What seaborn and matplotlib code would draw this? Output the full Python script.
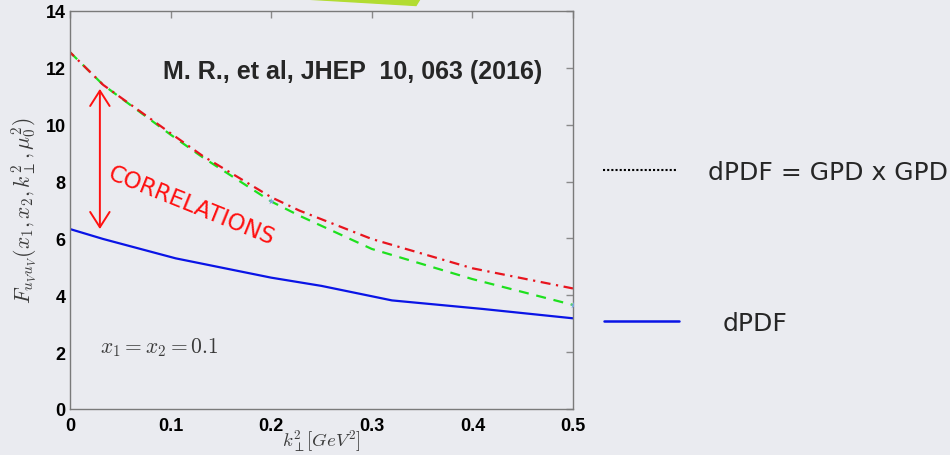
import matplotlib
matplotlib.use("Agg")
import matplotlib.pyplot as plt
from matplotlib.lines import Line2D
from matplotlib.patches import Polygon
import pandas as pd
import seaborn as sns

# curve values
k_dpdf = [0, 0.033, 0.105, 0.2, 0.25, 0.32, 0.41, 0.5]
f_dpdf = [6.33, 5.98, 5.30, 4.62, 4.33, 3.82, 3.52, 3.19]

k_gpd = [0, 0.033, 0.1, 0.132, 0.2, 0.228, 0.3, 0.4, 0.5]
f_gpd_red = [12.55, 11.4, 9.7, 8.9, 7.45, 6.98, 5.98, 4.95, 4.24]
f_gpd_green = [12.55, 11.4, 9.65, 8.85, 7.3, 6.8, 5.63, 4.57, 3.66]

k_star = [0.2, 0.5]
f_star = [7.32, 3.66]

x_ticks = [0, 0.1, 0.2, 0.3, 0.4, 0.5]
y_ticks = [0, 2, 4, 6, 8, 10, 12, 14]

bg = "#eaebf0"
sns.set_style("white", {"axes.facecolor": bg, "figure.facecolor": bg})
plt.rcParams["font.family"] = ["DejaVu Sans"]
plt.rcParams["mathtext.fontset"] = "cm"

fig = plt.figure(figsize=(9.5, 4.56), dpi=100)
ax = fig.add_axes([70 / 950, 1 - 410 / 456, 503 / 950, 398 / 456])

df_d = pd.DataFrame({"k": k_dpdf, "F": f_dpdf})
df_g = pd.DataFrame({"k": k_gpd, "red": f_gpd_red, "green": f_gpd_green})

sns.lineplot(data=df_g, x="k", y="green", ax=ax, color="#1ee01e", lw=1.6,
             linestyle=(0, (4.5, 3.5)))
sns.lineplot(data=df_g, x="k", y="red", ax=ax, color="#e8141e", lw=1.6,
             linestyle=(2, (4.5, 2.5, 1, 2.5)))
sns.lineplot(data=df_d, x="k", y="F", ax=ax, color="#0a14e6", lw=1.6)
sns.scatterplot(x=k_star, y=f_star, ax=ax, marker="*", s=25, color="#7fa6e0",
                linewidth=0, zorder=5)

ax.set_xlim(0, 0.5)
ax.set_ylim(0, 14)
ax.set_xticks(x_ticks)
ax.set_xticklabels(["0", "0.1", "0.2", "0.3", "0.4", "0.5"])
ax.set_yticks(y_ticks)
ax.set_yticklabels([str(v) for v in y_ticks])
for lab in ax.get_xticklabels() + ax.get_yticklabels():
    lab.set_fontfamily("Liberation Sans")
    lab.set_fontweight("bold")
    lab.set_fontsize(13)
ax.tick_params(direction="in", top=True, right=True, length=5, width=1,
               color="#8a8a8a", labelcolor="black", pad=3)
ax.tick_params(axis="x", pad=6)
for sp in ax.spines.values():
    sp.set_color("#7a7a7a")
    sp.set_linewidth(1)

ax.set_xlabel(r"$k_\perp^2[GeV^2]$", fontsize=13.5, color="#3a3a3a")
ax.xaxis.set_label_coords(0.5, -0.047)
ax.set_ylabel(r"$F_{u_V u_V}(x_1,x_2,k_\perp^2,\mu_0^2)$", fontsize=15.5,
              color="#3a3a3a", labelpad=5)

ax.text(0.092, 11.89, "M. R., et al, JHEP  10, 063 (2016)", fontsize=18,
        fontweight="bold", family="Liberation Sans", va="center", ha="left")
ax.text(0.0297, 2.18, r"$x_1 = x_2 = 0.1$", fontsize=15.5, color="#3a3a3a",
        va="center", ha="left")
ax.text(0.121, 7.18, "CORRELATIONS", fontsize=16.5, color="#ff1010",
        rotation=-22, rotation_mode="anchor", ha="center", va="center")
ax.annotate("", xy=(0.0297, 11.26), xytext=(0.0297, 6.33),
            arrowprops=dict(arrowstyle="<->,head_length=0.55,head_width=0.35",
                            color="#ff1010", lw=1.4, mutation_scale=20,
                            shrinkA=0, shrinkB=0))

# legend-like keys on the right
h1 = Line2D([], [], color="black", lw=1.5, linestyle=(0, (1, 1)))
h2 = Line2D([], [], color="#0a14e6", lw=1.8)
fig.legend(handles=[h1], labels=["dPDF = GPD x GPD"], loc="center left",
           bbox_to_anchor=(603 / 950, 1 - 173 / 456), frameon=False,
           fontsize=18, handlelength=3.0, handletextpad=1.2,
           borderpad=0, borderaxespad=0)
fig.legend(handles=[h2], labels=["dPDF"], loc="center left",
           bbox_to_anchor=(604 / 950, 1 - 324 / 456), frameon=False,
           fontsize=18, handlelength=3.0, handletextpad=1.76,
           borderpad=0, borderaxespad=0)

# green sliver at the top edge
fig.patches.append(Polygon([(305 / 950, 1.0), (420 / 950, 1.0),
                            (416 / 950, 1 - 6.5 / 456)], closed=True,
                           transform=fig.transFigure, color="#b2dc32"))

fig.savefig("out.png", dpi=100, facecolor=bg)
